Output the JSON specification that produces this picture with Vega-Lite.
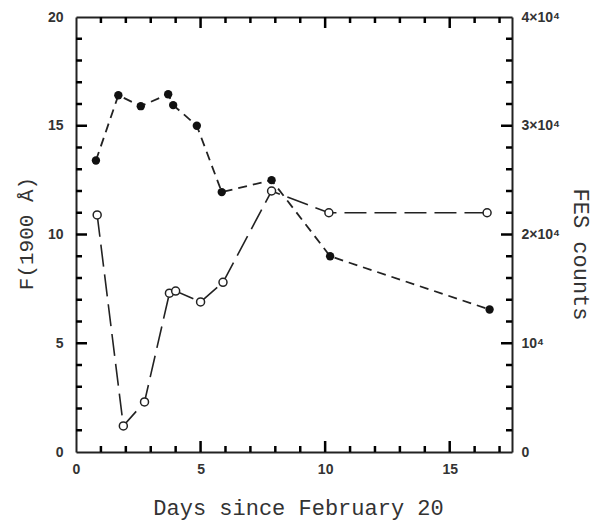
{
  "$schema": "https://vega.github.io/schema/vega-lite/v6.json",
  "width": 436,
  "height": 435,
  "autosize": "none",
  "padding": {"left": 76, "top": 17, "right": 81, "bottom": 68},
  "background": "white",
  "config": {
    "view": {"stroke": null},
    "axis": {
      "grid": false,
      "domainColor": "#222",
      "domainWidth": 2,
      "labelFont": "Liberation Sans",
      "labelFontWeight": "bold",
      "labelFontSize": 14,
      "labelColor": "#333",
      "labelFlush": false,
      "labelOverlap": false,
      "titleFont": "Liberation Mono",
      "titleFontWeight": "normal",
      "titleFontSize": 22,
      "titleColor": "#333"
    }
  },
  "datasets": {
    "fluxData": [
      {"day": 0.8, "flux": 13.4},
      {"day": 1.7, "flux": 16.4},
      {"day": 2.6, "flux": 15.9},
      {"day": 3.7, "flux": 16.45},
      {"day": 3.9, "flux": 15.95},
      {"day": 4.85, "flux": 15.0},
      {"day": 5.85, "flux": 11.95},
      {"day": 7.85, "flux": 12.5},
      {"day": 10.2, "flux": 9.0},
      {"day": 16.6, "flux": 6.55}
    ],
    "fesData": [
      {"day": 0.85, "counts": 21800},
      {"day": 1.9, "counts": 2400},
      {"day": 2.75, "counts": 4600},
      {"day": 3.75, "counts": 14600},
      {"day": 4.0, "counts": 14800},
      {"day": 5.0, "counts": 13800},
      {"day": 5.9, "counts": 15600},
      {"day": 7.85, "counts": 24000},
      {"day": 10.15, "counts": 22000},
      {"day": 16.5, "counts": 22000}
    ],
    "xMajor": [{"v": 5}, {"v": 10}, {"v": 15}],
    "xMinor": [{"v": 1}, {"v": 2}, {"v": 3}, {"v": 4}, {"v": 6}, {"v": 7}, {"v": 8}, {"v": 9}, {"v": 11}, {"v": 12}, {"v": 13}, {"v": 14}, {"v": 16}, {"v": 17}],
    "yMajor": [{"v": 5}, {"v": 10}, {"v": 15}],
    "yMinor": [{"v": 1}, {"v": 2}, {"v": 3}, {"v": 4}, {"v": 6}, {"v": 7}, {"v": 8}, {"v": 9}, {"v": 11}, {"v": 12}, {"v": 13}, {"v": 14}, {"v": 16}, {"v": 17}, {"v": 18}, {"v": 19}]
  },
  "layer": [
    {
      "data": {"name": "fluxData"},
      "encoding": {
        "x": {
          "field": "day",
          "type": "quantitative",
          "scale": {"domain": [0, 17.5], "nice": false, "zero": false},
          "axis": {
            "orient": "bottom",
            "values": [0, 5, 10, 15],
            "ticks": false,
            "tickSize": 0,
            "labelPadding": 10,
            "title": "Days since February 20",
            "titleX": 222,
            "titleY": 62,
            "titleBaseline": "alphabetic",
            "titleAlign": "center"
          }
        },
        "y": {
          "field": "flux",
          "type": "quantitative",
          "scale": {"domain": [0, 20], "nice": false, "zero": true},
          "axis": {
            "orient": "left",
            "values": [0, 5, 10, 15, 20],
            "ticks": false,
            "tickSize": 0,
            "labelPadding": 13,
            "title": "F(1900 Å)",
            "titleFontSize": 21,
            "titleX": -50,
            "titleY": 216,
            "titleAngle": -90,
            "titleBaseline": "middle",
            "titleAlign": "center"
          }
        }
      },
      "layer": [
        {"mark": {"type": "line", "color": "#222", "strokeWidth": 1.8, "strokeDash": [9, 6]}},
        {"mark": {"type": "point", "filled": true, "color": "#111", "size": 70, "opacity": 1}}
      ]
    },
    {
      "data": {"name": "fesData"},
      "encoding": {
        "x": {
          "field": "day",
          "type": "quantitative",
          "scale": {"domain": [0, 17.5], "nice": false, "zero": false},
          "axis": {
            "orient": "top",
            "values": [0, 5, 10, 15],
            "labels": false,
            "ticks": false,
            "tickSize": 0,
            "title": null
          }
        },
        "y": {
          "field": "counts",
          "type": "quantitative",
          "scale": {"domain": [0, 40000], "nice": false, "zero": true},
          "axis": {
            "orient": "right",
            "values": [0, 10000, 20000, 30000, 40000],
            "labelExpr": "datum.value === 0 ? '0' : datum.value === 10000 ? '10⁴' : (datum.value / 10000) + '×10⁴'",
            "ticks": false,
            "tickSize": 0,
            "labelPadding": 9,
            "title": "FES counts",
            "titleX": 68,
            "titleY": 237,
            "titleAngle": 90,
            "titleBaseline": "middle",
            "titleAlign": "center"
          }
        }
      },
      "layer": [
        {"mark": {"type": "line", "color": "#222", "strokeWidth": 1.6, "strokeDash": [22, 8]}},
        {"mark": {"type": "point", "filled": false, "fill": "white", "stroke": "#222", "strokeWidth": 1.5, "size": 64, "opacity": 1}}
      ]
    },
    {
      "data": {"name": "xMajor"},
      "mark": {"type": "tick", "orient": "vertical", "size": 11, "thickness": 2.5, "color": "#000", "opacity": 1, "yOffset": -5.5},
      "encoding": {
        "x": {"field": "v", "type": "quantitative", "scale": {"domain": [0, 17.5], "nice": false, "zero": false}, "axis": null},
        "y": {"datum": 0, "type": "quantitative", "scale": {"domain": [0, 20], "nice": false}, "axis": null}
      }
    },
    {
      "data": {"name": "xMinor"},
      "mark": {"type": "tick", "orient": "vertical", "size": 6, "thickness": 2.5, "color": "#000", "opacity": 1, "yOffset": -3},
      "encoding": {
        "x": {"field": "v", "type": "quantitative", "scale": {"domain": [0, 17.5], "nice": false, "zero": false}, "axis": null},
        "y": {"datum": 0, "type": "quantitative", "scale": {"domain": [0, 20], "nice": false}, "axis": null}
      }
    },
    {
      "data": {"name": "xMajor"},
      "mark": {"type": "tick", "orient": "vertical", "size": 11, "thickness": 2.5, "color": "#000", "opacity": 1, "yOffset": 5.5},
      "encoding": {
        "x": {"field": "v", "type": "quantitative", "scale": {"domain": [0, 17.5], "nice": false, "zero": false}, "axis": null},
        "y": {"datum": 20, "type": "quantitative", "scale": {"domain": [0, 20], "nice": false}, "axis": null}
      }
    },
    {
      "data": {"name": "xMinor"},
      "mark": {"type": "tick", "orient": "vertical", "size": 6, "thickness": 2.5, "color": "#000", "opacity": 1, "yOffset": 3},
      "encoding": {
        "x": {"field": "v", "type": "quantitative", "scale": {"domain": [0, 17.5], "nice": false, "zero": false}, "axis": null},
        "y": {"datum": 20, "type": "quantitative", "scale": {"domain": [0, 20], "nice": false}, "axis": null}
      }
    },
    {
      "data": {"name": "yMajor"},
      "mark": {"type": "tick", "orient": "horizontal", "size": 11, "thickness": 2.5, "color": "#000", "opacity": 1, "xOffset": 5.5},
      "encoding": {
        "x": {"datum": 0, "type": "quantitative", "scale": {"domain": [0, 17.5], "nice": false, "zero": false}, "axis": null},
        "y": {"field": "v", "type": "quantitative", "scale": {"domain": [0, 20], "nice": false}, "axis": null}
      }
    },
    {
      "data": {"name": "yMinor"},
      "mark": {"type": "tick", "orient": "horizontal", "size": 6, "thickness": 2.5, "color": "#000", "opacity": 1, "xOffset": 3},
      "encoding": {
        "x": {"datum": 0, "type": "quantitative", "scale": {"domain": [0, 17.5], "nice": false, "zero": false}, "axis": null},
        "y": {"field": "v", "type": "quantitative", "scale": {"domain": [0, 20], "nice": false}, "axis": null}
      }
    },
    {
      "data": {"name": "yMajor"},
      "mark": {"type": "tick", "orient": "horizontal", "size": 11, "thickness": 2.5, "color": "#000", "opacity": 1, "xOffset": -5.5},
      "encoding": {
        "x": {"datum": 17.5, "type": "quantitative", "scale": {"domain": [0, 17.5], "nice": false, "zero": false}, "axis": null},
        "y": {"field": "v", "type": "quantitative", "scale": {"domain": [0, 20], "nice": false}, "axis": null}
      }
    },
    {
      "data": {"name": "yMinor"},
      "mark": {"type": "tick", "orient": "horizontal", "size": 6, "thickness": 2.5, "color": "#000", "opacity": 1, "xOffset": -3},
      "encoding": {
        "x": {"datum": 17.5, "type": "quantitative", "scale": {"domain": [0, 17.5], "nice": false, "zero": false}, "axis": null},
        "y": {"field": "v", "type": "quantitative", "scale": {"domain": [0, 20], "nice": false}, "axis": null}
      }
    }
  ],
  "resolve": {
    "scale": {"y": "independent"},
    "axis": {"x": "independent", "y": "independent"}
  }
}
